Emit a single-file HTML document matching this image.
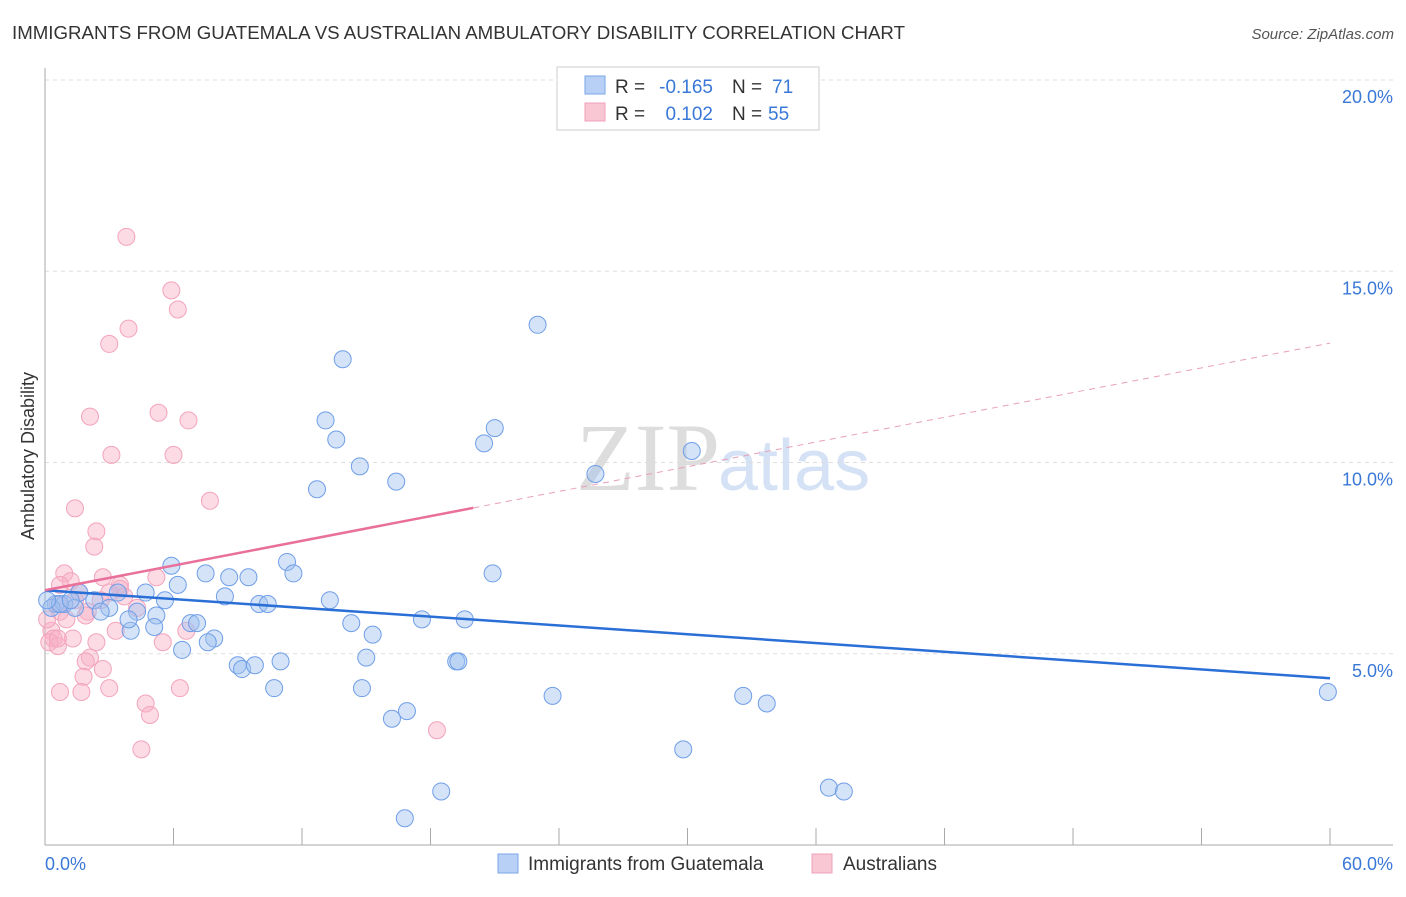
<!DOCTYPE html>
<html><head><meta charset="utf-8"><style>
body{margin:0;background:#fff;font-family:"Liberation Sans",sans-serif}
</style></head><body>
<svg id="c" width="1406" height="892" xmlns="http://www.w3.org/2000/svg" style="font-family:'Liberation Sans',sans-serif">
<text x="12" y="39" font-size="18" fill="#333" textLength="893" lengthAdjust="spacingAndGlyphs">IMMIGRANTS FROM GUATEMALA VS AUSTRALIAN AMBULATORY DISABILITY CORRELATION CHART</text>
<text x="1394" y="39" font-size="15" fill="#555" font-style="italic" text-anchor="end">Source: ZipAtlas.com</text>
<text x="720" y="490" font-size="96" fill="#ddd" text-anchor="end" font-family="Liberation Serif">ZIP</text>
<text x="718" y="490" font-size="72" fill="#d5e2f5">atlas</text>
<g id="grid"></g>
<g id="pts"></g>
<g id="lines"></g>
<text transform="translate(34,456) rotate(-90)" font-size="18" fill="#333" text-anchor="middle">Ambulatory Disability</text>
<text x="45" y="870" font-size="18" fill="#3a78d8">0.0%</text>
<text x="1393" y="870" font-size="18" fill="#3a78d8" text-anchor="end">60.0%</text>
<g font-size="19">
<rect x="557" y="67" width="262" height="63" fill="#fff" stroke="#ccc"/>
<rect x="585" y="76" width="20" height="18" fill="#b8d0f5" stroke="#7aa6e8"/>
<rect x="585" y="103" width="20" height="18" fill="#f9c6d4" stroke="#f0a0b8"/>
<text x="615" y="93" fill="#333">R =</text>
<text x="713" y="93" fill="#3a78d8" text-anchor="end">-0.165</text>
<text x="732" y="93" fill="#333">N =</text>
<text x="772" y="93" fill="#3a78d8">71</text>
<text x="615" y="120" fill="#333">R =</text>
<text x="713" y="120" fill="#3a78d8" text-anchor="end">0.102</text>
<text x="732" y="120" fill="#333">N =</text>
<text x="768" y="120" fill="#3a78d8">55</text>
</g>
<g>
<rect x="498" y="854" width="20" height="19" fill="#b8d0f5" stroke="#7aa6e8"/>
<text x="528" y="870" font-size="19" fill="#333">Immigrants from Guatemala</text>
<rect x="812" y="854" width="20" height="19" fill="#f9c6d4" stroke="#f0a0b8"/>
<text x="843" y="870" font-size="19" fill="#333">Australians</text>
</g>
</svg>
<script>
const yTicks=[5,10,15,20];
const yTickLabels=["5.0%","10.0%","15.0%","20.0%"];
const xTicks=[0,6,12,18,24,30,36,42,48,54,60];
const blueX=[59.9,23.0,13.9,13.1,13.6,21.0,20.5,30.2,14.7,25.7,16.4,12.7,5.9,11.3,11.6,7.5,8.6,9.5,6.2,4.7,3.4,1.6,2.3,0.5,0.9,1.4,3.0,2.6,4.3,5.6,8.4,10.0,10.4,13.3,20.9,19.6,17.6,14.3,5.2,5.1,4.0,3.9,6.8,7.1,7.9,7.6,6.4,15.3,15.0,9.0,9.2,9.8,11.0,19.2,19.3,10.7,14.8,23.7,32.6,33.7,16.9,16.2,29.8,18.5,36.6,37.3,16.8,0.3,0.7,1.2,0.1];
const blueY=[4.0,13.6,12.7,11.1,10.6,10.9,10.5,10.3,9.9,9.7,9.5,9.3,7.3,7.4,7.1,7.1,7.0,7.0,6.8,6.6,6.6,6.6,6.4,6.3,6.3,6.2,6.2,6.1,6.1,6.4,6.5,6.3,6.3,6.4,7.1,5.9,5.9,5.8,6.0,5.7,5.6,5.9,5.8,5.8,5.4,5.3,5.1,5.5,4.9,4.7,4.6,4.7,4.8,4.8,4.8,4.1,4.1,3.9,3.9,3.7,3.5,3.3,2.5,1.4,1.5,1.4,0.7,6.2,6.3,6.4,6.4];
const pinkX=[3.8,5.9,6.2,3.9,3.0,2.1,5.3,6.7,3.1,6.0,1.4,7.7,2.4,2.3,0.9,1.2,2.7,5.2,0.7,1.6,3.5,3.5,3.0,1.4,2.0,1.9,4.3,0.3,0.4,0.2,0.6,1.3,2.4,3.3,6.6,5.5,2.1,1.9,2.7,1.8,3.0,0.7,1.7,6.3,4.7,4.9,4.5,18.3,0.7,1.0,0.6,2.6,0.1,3.7,0.6];
const pinkY=[15.9,14.5,14.0,13.5,13.1,11.2,11.3,11.1,10.2,10.2,8.8,9.0,8.2,7.8,7.1,6.9,7.0,7.0,6.8,6.6,6.8,6.7,6.6,6.4,6.1,6.0,6.2,5.6,5.4,5.3,5.2,5.4,5.3,5.6,5.6,5.3,4.9,4.8,4.6,4.4,4.1,4.0,4.0,4.1,3.7,3.4,2.5,3.0,6.1,5.9,6.3,6.4,5.9,6.5,5.4];
const blueTrend=[6.66,4.36];
const pinkTrend=[6.66,13.12];
const pinkSolidEnd=20;
const X=v=>45+v*(1285/60), Y=v=>845-v*(765/20);
const NS="http://www.w3.org/2000/svg";
function mk(t,a,p){const e=document.createElementNS(NS,t);for(const k in a)e.setAttribute(k,a[k]);p.appendChild(e);return e;}
const g=document.getElementById('grid');
yTicks.forEach((t,i)=>{
 const l=mk('line',{x1:45,x2:1393,y1:Y(t),y2:Y(t),stroke:'#ddd','stroke-dasharray':'4,4'},g);
 
 
 const tx=mk('text',{x:1393,y:Y(t)+23,'font-size':18,fill:'#3a78d8','text-anchor':'end'},g);
 tx.textContent=yTickLabels[i];
 
 
});
const ax=mk('line',{x1:45,x2:45,y1:68,y2:845,stroke:'#aaa'},g);


const bx=mk('line',{x1:45,x2:1393,y1:845,y2:845,stroke:'#aaa'},g);


xTicks.forEach(t=>{
 const l=mk('line',{x1:X(t),x2:X(t),y1:828,y2:845,stroke:'#aaa'},g);
 
 
});
const p=document.getElementById('pts');
pinkX.forEach((x,i)=>{
 const c=mk('circle',{cx:X(x),cy:Y(pinkY[i]),r:8.5,fill:'rgba(248,175,198,0.45)',stroke:'#f2a4bc','stroke-width':1},p);
 
 
});
blueX.forEach((x,i)=>{
 const c=mk('circle',{cx:X(x),cy:Y(blueY[i]),r:8.5,fill:'rgba(160,192,240,0.45)',stroke:'#6f9ee8','stroke-width':1},p);
 
 
});
const L=document.getElementById('lines');
const bl=mk('line',{x1:X(0),y1:Y(blueTrend[0]),x2:X(60),y2:Y(blueTrend[1]),stroke:'#2a6fd6','stroke-width':2.5},L);


const pv=x=>pinkTrend[0]+(pinkTrend[1]-pinkTrend[0])*x/60;
const ps=mk('line',{x1:X(0),y1:Y(pv(0)),x2:X(pinkSolidEnd),y2:Y(pv(pinkSolidEnd)),stroke:'#e8709a','stroke-width':2.5},L);


const pd=mk('line',{x1:X(pinkSolidEnd),y1:Y(pv(pinkSolidEnd)),x2:X(60),y2:Y(pv(60)),stroke:'#e8a0b8','stroke-width':1,'stroke-dasharray':'6,5'},L);


</script>
</body></html>
